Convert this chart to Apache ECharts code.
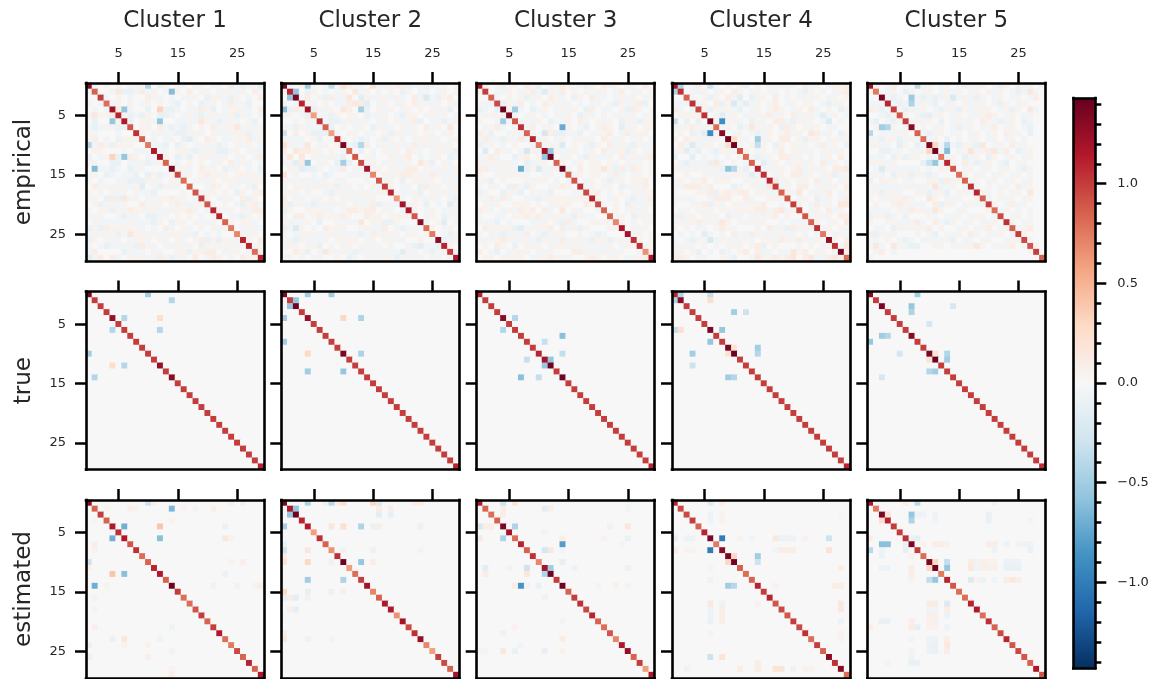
<!DOCTYPE html>
<html><head><meta charset="utf-8">
<style>html,body{margin:0;padding:0;background:#fff}#c{width:1156px;height:679px}#c canvas{filter:blur(0.4px)}</style>
<script src="https://cdn.jsdelivr.net/npm/echarts@6/dist/echarts.min.js"></script>
</head><body><div id="c"></div>
<script>
const clusters = ['Cluster 1','Cluster 2','Cluster 3','Cluster 4','Cluster 5'];
const rowNames = ['empirical','true','estimated'];
const colorStops = ['#053061','#2166ac','#4393c3','#92c5de','#d1e5f0','#f7f7f7','#fddbc7','#f4a582','#d6604d','#b2182b','#67001f'];
const colorMin = -1.43, colorMax = 1.43;
const barMajor = [-1,-0.5,0,0.5,1];
const barMinor = [-1.4,-1.3,-1.2,-1.1,-0.9,-0.8,-0.7,-0.6,-0.4,-0.3,-0.2,-0.1,0.1,0.2,0.3,0.4,0.6,0.7,0.8,0.9,1.1,1.2,1.3,1.4];

// diagonals
const diagE1=[1.3,.85,1,.8,1.2,1.1,1.15,.9,1.05,.85,.75,1.15,1.2,.85,1.35,.95,.8,.85,.9,1,.9,1.1,1.1,.85,.75,.7,1.1,1.1,.8,1.1];
const diagE2=[1.35,1.1,1.35,1.1,1.2,.6,1.05,.85,.6,1.05,1.35,.8,.9,.95,1.2,.7,.9,1,1.1,.6,1.2,1.15,.9,1.3,.8,.75,1.3,1.1,1,1.15];
const diagE3=[1.15,1,.85,.95,1.4,1.35,.9,1.05,.85,1.1,.75,1.2,1.4,.85,1.4,.85,.9,1.05,.95,1.1,.95,.85,.85,.7,1.15,1.2,1.05,1.05,.65,1.15];
const diagE4=[1.15,1.05,.85,1.05,.95,1.05,1.35,.8,1.3,1.4,1.4,.9,.8,.85,1.1,1.05,1.1,1,.85,.9,1,.95,.9,.85,1.05,.75,1.25,1.05,1.35,.8];
const diagE5=[1.2,.75,1.35,1.1,1,.9,1,1.3,.85,.8,1.35,1.4,.75,1.1,.9,.8,.85,1.05,1.1,.85,1,.8,.95,1.05,.85,1,.95,.9,1,.85];
const diagT1=[1.35,1,1,1,1.25,1,1,1,1,1,1,1,1.25,1,1.3,1,1,1,1,1,1,1,1,1,1,1,1,1,1,1.1];
const diagT2=[1.35,1,1.4,1,1.25,1,1,1,1,1,1.35,1,1,1,1,1,1,1,1,1,1,1,1,1,1,1,1,1,1,1.1];
const diagT3=[1.1,1,1,1,1.3,1,1,1,1,1,1.1,1.2,1.4,1,1.4,1,1,1,1,1,1,1,1,1,1,1,1,1,1,1.1];
const diagT4=[1.1,1.3,1,1,1,1,1.35,1,1,1.35,1.4,1,1,1,1,1,1,1,1,1,1,1,1,1,1,1,1,1,1,1.1];
const diagT5=[1.3,1,1.35,1,1,1,1,1.3,1,1,1.35,1.4,1,1,1,1,1,1,1,1,1,1,1,1,1,1,1,1,1,1.05];
const diagS1=[1.3,.85,1,.85,1.15,1.05,1.15,.9,1.05,.8,.85,1.1,1.15,.85,1.4,1,.8,.8,.9,1,.85,1,1.15,.8,.75,.95,.85,1.1,.85,1.15];
const diagS2=[1.35,1.15,1.4,1.1,1.15,.6,1.05,.85,.65,1.05,1.4,.6,.8,1,1.2,.7,.85,1.15,1.15,.65,1.2,.95,1.05,1.25,.7,.6,1,.95,.85,1.2];
const diagS3=[1.15,.85,.8,.85,1.35,1.2,.8,1.1,.85,1.05,.7,1.2,1.4,1,1.4,.85,1,1.05,.95,1.1,.85,.8,.9,.7,1.15,1.25,.85,1,.6,1.15];
const diagS4=[1.1,.95,.95,1,.85,1.1,1.35,.75,1.3,1.35,1.4,.85,.8,.85,1.1,1,1.1,.9,.95,.9,1,.95,1.05,.8,1,.85,1.3,1.05,1.3,.8];
const diagS5=[1.15,.75,1.35,1.1,1,1,1.05,1.35,1,.8,1.35,1.4,.75,1.1,.9,.8,.8,1.1,1.15,.8,1.05,.85,.95,1.1,.9,.95,.9,.85,1.15,.9];

// notable off-diagonal cells: [row, col, value]
const offE1=[[0,10,-.42],[1,14,-.62],[4,6,-.55],[4,12,.33],[6,12,-.55]];
const offE2=[[0,4,-.5],[0,8,-.35],[1,2,-.55],[0,10,.2],[0,15,.2],[4,13,-.48],[4,10,.15],[10,13,-.42],[2,13,-.15],[3,13,.12],[8,0,-.3],[4,0,-.6],[13,4,-.55],[13,10,-.48],[2,24,-.2]];
const offE3=[[0,10,-.1],[4,6,-.5],[7,14,-.72],[8,11,-.25],[11,12,-.55],[10,14,-.2],[8,14,-.1],[8,12,.1],[1,11,-.18]];
const offE4=[[0,1,-.45],[0,6,-.3],[6,8,-.9],[6,0,-.35],[9,10,.25],[9,14,-.5],[10,14,-.35],[3,10,-.22],[3,12,-.14],[10,3,-.2],[14,9,-.58],[14,10,-.42],[6,26,-.2],[26,6,-.22]];
const offE5=[[0,8,-.38],[2,7,-.52],[3,7,-.45],[2,14,-.22],[7,2,-.5],[7,3,-.42],[8,0,-.4],[10,13,-.4],[11,13,-.62],[10,11,.3],[13,10,-.32],[13,11,-.55],[14,2,-.2],[10,5,-.12],[11,17,.18],[11,21,.15]];
const offT1=[[0,10,-.5],[1,14,-.42],[4,6,-.42],[4,12,.25],[6,12,-.42]];
const offT2=[[0,4,-.5],[0,8,-.5],[1,2,-.55],[4,10,.3],[4,13,-.45],[10,13,-.45],[13,4,-.5],[13,10,-.55]];
const offT3=[[4,6,-.42],[7,14,-.6],[8,11,-.33],[10,14,-.35],[11,12,-.55]];
const offT4=[[0,1,-.45],[0,6,-.35],[1,6,.25],[3,10,-.5],[3,12,-.3],[6,8,-.55],[9,10,.2],[9,14,-.5],[10,14,-.42],[14,9,-.5],[14,10,-.42]];
const offT5=[[0,8,-.5],[2,7,-.55],[3,7,-.45],[2,14,-.25],[5,10,-.25],[8,0,-.55],[10,11,.2],[10,13,-.42],[11,13,-.5],[7,2,-.5],[7,3,-.42],[14,2,-.25]];
const offS1=[[0,10,-.3],[0,11,.08],[0,24,-.08],[0,26,-.08],[1,14,-.65],[1,16,.06],[1,18,-.05],[1,21,.08],[1,8,.06],[1,3,.04],[3,14,.05],[4,6,-.7],[4,12,.4],[4,23,-.1],[6,12,-.6],[6,23,.15],[6,24,.05],[12,23,-.08],[14,1,-.7],[14,21,-.08],[14,25,-.06],[14,29,.08],[23,4,-.1],[23,6,.15],[23,12,-.08],[10,0,-.3],[26,10,.08],[24,10,.06],[24,0,-.1],[26,0,-.1],[28,14,.06],[7,1,.08]];
const offS2=[[0,4,-.45],[0,8,-.4],[0,10,.25],[0,15,.3],[0,16,-.2],[1,2,-.55],[1,16,.12],[2,16,-.15],[4,0,-.5],[4,8,.15],[4,10,.25],[4,13,-.45],[4,15,-.1],[4,16,.1],[7,0,-.1],[8,0,-.3],[8,4,.15],[8,10,-.08],[8,15,-.08],[9,0,.1],[10,0,.2],[10,4,.3],[10,13,-.55],[10,15,.1],[13,4,-.5],[13,10,-.45],[15,0,.3],[15,4,-.12],[15,8,-.1],[15,10,.08],[16,0,-.12],[16,2,-.15],[16,4,.08],[18,1,.08],[18,2,-.12],[23,0,.15],[23,4,-.08],[23,8,-.05],[0,22,.1],[0,23,.1]];
const offS3=[[0,4,-.3],[0,6,.2],[4,0,-.25],[4,1,.1],[4,2,.1],[4,6,-.45],[6,4,-.45],[6,0,.15],[7,14,-.8],[14,7,-.85],[8,11,-.25],[8,12,.15],[11,8,-.3],[11,12,-.5],[12,11,-.45],[10,14,-.12],[14,10,-.1],[11,1,-.15],[12,1,.1],[4,22,-.08],[4,25,.15],[6,25,-.1],[25,1,-.05],[25,11,-.12],[0,25,-.05],[11,16,-.08],[11,25,-.08],[6,14,.1],[14,6,.1],[8,14,-.05],[23,14,.12],[14,23,.08],[11,5,-.05],[14,20,.05],[14,25,.05],[6,21,.06],[24,7,-.05]];
const offS4=[[0,6,-.2],[0,8,.1],[6,0,-.12],[6,2,-.08],[6,3,-.08],[6,8,-1],[8,6,-1],[6,11,.05],[6,13,-.06],[6,17,.15],[6,18,-.08],[6,19,-.08],[6,20,-.08],[6,22,.06],[6,26,-.3],[26,6,-.3],[8,0,.12],[8,2,.05],[8,3,.05],[8,17,-.05],[8,18,.1],[8,19,.1],[8,20,.1],[8,26,.2],[26,8,.2],[9,10,.3],[10,9,.3],[9,14,-.5],[14,9,-.5],[10,14,-.3],[14,10,-.4],[14,17,.06],[14,27,.1],[14,28,.1],[17,28,.15],[18,28,.15],[17,6,.15],[18,6,-.08],[20,6,-.1],[22,6,.05],[17,8,-.08],[18,8,.1],[19,8,.1],[20,8,.1],[28,2,-.06],[28,11,.1],[28,17,.18],[28,18,.18],[28,20,-.08],[28,22,.06],[28,23,.04],[2,28,-.03]];
const offS5=[[0,6,.1],[0,8,-.38],[0,21,.08],[2,3,.2],[3,2,.25],[2,7,-.55],[2,8,-.08],[2,9,-.08],[2,11,-.08],[2,20,-.1],[3,7,-.45],[3,11,-.05],[3,20,-.1],[7,2,-.6],[7,3,-.6],[7,6,-.1],[6,7,-.1],[7,9,.05],[7,11,.1],[7,12,.1],[7,13,.05],[7,20,.1],[7,21,.1],[7,23,-.08],[7,25,.05],[7,26,-.08],[7,27,-.08],[8,0,-.4],[8,6,-.12],[8,21,-.08],[10,11,.3],[11,10,.3],[10,13,-.35],[10,17,.12],[10,18,-.06],[10,20,.06],[10,21,.06],[10,23,-.08],[10,24,-.08],[10,25,-.08],[11,2,-.08],[11,3,-.08],[11,7,.1],[11,13,-.55],[11,17,.15],[11,18,-.06],[11,19,.08],[11,20,.08],[11,21,.08],[11,23,-.1],[11,24,-.1],[11,25,-.1],[13,10,-.35],[13,11,-.55],[13,17,-.2],[13,18,.06],[13,19,-.08],[13,21,-.06],[13,23,.1],[13,24,.15],[13,25,.1],[17,10,.12],[17,11,.12],[17,13,-.2],[18,10,-.05],[18,11,-.05],[18,13,.1],[19,10,.08],[19,11,.08],[19,13,-.08],[21,0,.1],[21,7,.12],[21,8,-.12],[21,10,.06],[21,11,.06],[21,13,-.06],[23,7,-.05],[23,10,-.08],[23,11,-.08],[23,13,.1],[24,13,.15],[24,10,-.08],[25,13,.1],[27,3,.05],[27,7,-.1],[27,8,-.1]];

// faint cells of the empirical panels, upper triangle, one string per row.
// a b c d = +.05 +.1 +.15 +.2 ; x y z w = -.05 -.1 -.15 -.2 ; . = 0
const noiseE1=[
"x.a.a.xaxb.ya.xx.aa.xa.yxyxxz",
"..xcyyxbxa.xya.b.xa.xaaxa.bxx",
"x.a.x..bax.x.xxa.yaaxya.x.bx",
"xa.a.xa.a.xy.a.yxa.xbxay..a",
"bxx..y.ayyx.xxbay.xaaxx.ba",
"ayxya.yyx.xaxyxaxxayax.x",
"y.aaxy..xxaxcaxyxax.xy",
".aa.bxyxyx.a.bxaacxaxa.",
"a.xaxxyyaax.axxaaayxa",
".x.xa.yzx.ba.xxaabxa",
"xxy.ya.xaxxyx.axa.xb",
"xx.aaxyxaayyxa.xax",
"a.yxy.aaxxa.xa.xb",
".x.a.a.xa.bxax.xc",
"aax.bxa.yxa.x.y",
"xa.abaaa.aaaax",
".xaxa.aaaxxaa",
"..xba.xx.ay.",
"xaa.a.ya.ab",
"a.xxa.bya.",
"x.a.xyabx",
"axa.axbb",
".xxya.a",
"a.aax.",
".xaax",
"axa.",
"a.b",
"xa",
"a"];
const noiseE2=[
"x.a.a.xxa.bxa.aaxabbyxayaxa.a",
"..ya.x.xa.cxa.x.a.ya.xx.xa.a",
"xb.aybxxc.yaxaaxax.bxaxyab.",
"ax.a.xxbcbz.xa.xa.bxaxa.ax",
"yaxa.bb.xy.axa.xa.a.axay.",
"xxya.aa.yxxa.xyaa.xaxa.xa",
"xyyxaxxa.xa.axaby.xxyxa",
"y.a.xa.yaxx.axa.bxa.c.",
"x.aa.xx.ayaxxa.aa.xa.",
"a.xyx.aya.a.xaaxa.xa",
"xyxb.xaxaxxbxaxaxa.",
".y.x.axa.bax.xaaxy",
".ax..axab.x.xa.yx",
"xa.xaxxa.cay.ax.",
"xa.aaxbb.axxaxa",
".axabbaaxbaxxa",
"xa.y.aaxa.xax",
"a.xa.ybxa.xa",
".xxay.axaxa",
"x.aaxax.xy",
"xa.y.x.za",
"a.xa.xax",
".xa.yxa",
"x.az.x",
"a.xa.",
".xyx",
"yxa",
"a.",
"x"];
const noiseE3=[
"a.ayxa.bxa.xabaxxya.bxa.xa.b",
".xxa.xabxaaxb.a.axaa.xb.xa.a",
"x.a.ayxa.bax.ya.bxx.xaxa.xa",
"yaxb.x.bxaxa.x.xa.xyaxaby.",
"a.x.yxa.xaxa.yb.xx.ayba.a",
"x.xa.x.axa.yax.a.xaxa.xa",
"xaxa.yxxa.bx.axa.yaxyaa",
"xb.xa.xa.xy.aba.zxa.aa",
"x.a.y.xay.xaab.xbxaa.",
"xa.xa.xaax.baxa.xa.x",
"xax..a.xya.bxaxyaxa",
".axxa.xa.bxaaya.xa",
".xa.xyaxxa.bxaxab",
"a.xa.aa.ax.axa.a",
"x.b.aacaybxba.a",
"xa.aa.xbx.xa.x",
".xa.ayxa.aab.",
"xa.xa.yxaxb.",
"ab.x.a.xaxa",
"a.xa.xyxab",
"x.a.yaxxa",
".a.xaxa.",
"xa.yaxa",
"a.x.xa",
".axa.",
"xa.x",
"a.a",
"xa",
"b"];
const noiseE4=[
"a.xb.xa.a.xy.a.xaxxa.bxa.xaab",
".xxa.xa.ba.xa.ax.a.xya.x.xab",
"x.aya.bxz.yxa.b.x.xaxa.xa.a",
"xa.bya.xaxa.xb.xa.aa.xyxa.",
"ayaxaxy.xa.aba.xa.bx.a.ya",
".xzxa.xaxabxa.bxaaxzxa.x",
"a.xax.yax.bbxyaxa.xa.x",
"xa.yxcaxa.yba.axa.xx.",
".xa.xyxa.abxa.cbxa.ya",
"aax.yxa.bb.ayaa.xaxa",
"x.axa.ya.axa.xbxa.y",
"a.xa.xb.aaxa.xaxa",
"xyxa.bbxa.x.xa.b",
".zxa.xaaxa.bxa.x",
"xaxa.abxaxa.bbc",
".xa.bbxa.xayxa",
"cxa.xa.bxa.xa",
"xa.bb.xaxa.b",
"axc.xaxb.xa",
".xa.yxa.xb",
"a.xbxa.cc",
".xa.bxa.",
"xaxa.bb",
"a.xa.c",
"xa.ax",
".xax",
"a.b",
"xc",
"a"];
const noiseE5=[
"a.xb.x.xax.xa.xyaxa.xya.bxa.a",
".xa.ya.xa.xaxa.xa.axa.xyxcx.",
"xyx.zxyxyxa.xaxya.xa.xa.xb.",
"xyxyxaxy.xa.axax.xya.xa.",
"ayaxa.xyaxyaxaaa.xaya.cx",
"a.xy.xa.xa.xxaba.xa.xa",
"xaxa.y.xaxa.baxyxa.yx",
".a.xa.xyxa.xab.xa.xy",
"xyxa.xa.xa.xa.bxa.y",
"xa.y.x.xa.xa.xa.x",
"bxyxyaxyc.xa.bxa.",
"xa.xa.xabaxb.yxa",
"xa.yxa.ya.xa.xa",
"a.bxyxa.xy.xa.",
".xa.xa.xa.xya",
"a.xa.xa.xa.x",
"xa.xa.xa.xa",
"x.a.xa.bxa",
"ax.a.xa.c",
"x.axa.xa",
"a.xbxa.",
"xa.x.a",
".xa.x",
"a.xa",
"xab",
"a.",
"x",
"a",
""];

const levels={a:.05,b:.1,c:.15,d:.2,x:-.05,y:-.1,z:-.15,w:-.2};
const cats=Array.from({length:30},(_,i)=>String(i));
function cells(diag,off,noise){
  const m=cats.map(()=>cats.map(()=>0));
  (noise||[]).forEach((s,r)=>{[...s].forEach((ch,k)=>{const c=r+1+k;if(c<30&&levels[ch]){m[r][c]=levels[ch];m[c][r]=levels[ch];}});});
  const seen={};
  off.forEach(o=>{seen[o[0]+'_'+o[1]]=1;});
  off.forEach(o=>{m[o[0]][o[1]]=o[2];if(!seen[o[1]+'_'+o[0]])m[o[1]][o[0]]=o[2];});
  diag.forEach((v,i)=>{m[i][i]=v;});
  const out=[];
  m.forEach((row,r)=>row.forEach((v,c)=>out.push([c,r,v])));
  return out;
}
const panels=[
 [[diagE1,offE1,noiseE1],[diagE2,offE2,noiseE2],[diagE3,offE3,noiseE3],[diagE4,offE4,noiseE4],[diagE5,offE5,noiseE5]],
 [[diagT1,offT1],[diagT2,offT2],[diagT3,offT3],[diagT4,offT4],[diagT5,offT5]],
 [[diagS1,offS1],[diagS2,offS2],[diagS3,offS3],[diagS4,offS4],[diagS5,offS5]]
];
const lefts=[86,281.3,476.7,672,867.3], tops=[83,291.6,500], side=178;
const ink='#000', txt='#262626', font='"DejaVu Sans"';
const shown=i=>i%10===5;
const grid=[],xAxis=[],yAxis=[],series=[];
function frameX(g,pos){return {gridIndex:g,type:'category',data:cats,position:pos,z:5,silent:true,
  axisLine:{show:true,onZero:false,lineStyle:{color:ink,width:2.6,cap:'square'}},axisTick:{show:false},axisLabel:{show:false},splitLine:{show:false},splitArea:{show:false}};}
panels.forEach((row,r)=>row.forEach((p,c)=>{
  const g=grid.length;
  grid.push({left:lefts[c],top:tops[r],width:side,height:side,containLabel:false});
  const tick={show:true,alignWithLabel:true,length:11,interval:(i)=>shown(i),lineStyle:{color:ink,width:2.5}};
  const xi=xAxis.length, yi=yAxis.length;
  xAxis.push(Object.assign(frameX(g,'top'),{
    axisTick:tick,
    axisLabel:{show:r===0,interval:(i)=>shown(i),margin:23,fontSize:13,color:txt,fontFamily:font},
    name:r===0?clusters[c]:'',nameLocation:'middle',nameGap:50,nameTextStyle:{fontSize:23,color:txt,fontFamily:font}
  }));
  xAxis.push(frameX(g,'bottom'));
  yAxis.push(Object.assign(frameX(g,'left'),{
    inverse:true,axisTick:tick,
    axisLabel:{show:c===0,interval:(i)=>shown(i),margin:20,fontSize:13,color:txt,fontFamily:font},
    name:c===0?rowNames[r]:'',nameLocation:'middle',nameGap:50,nameRotate:90,nameTextStyle:{fontSize:23,color:txt,fontFamily:font}
  }));
  yAxis.push(Object.assign(frameX(g,'right'),{inverse:true}));
  series.push({type:'heatmap',xAxisIndex:xi,yAxisIndex:yi,data:cells(p[0],p[1],p[2]),progressive:0,animation:false,silent:true,
    itemStyle:{borderWidth:0},emphasis:{disabled:true}});
}));
// colour bar axes: one grid for the frame and the labelled ticks, one on top for the minor ticks
const barBox={left:1073.3,top:98,width:22,height:570};
const barAxis=(g,pos,vals,len,labels,line)=>({gridIndex:g,type:'value',min:colorMin,max:colorMax,position:pos,z:5,silent:true,
  axisLine:{show:line,onZero:false,lineStyle:{color:ink,width:2.6,cap:'square'}},
  axisTick:{show:len>0,customValues:vals,length:len,lineStyle:{color:ink,width:2.5}},
  axisLabel:{show:labels,customValues:vals,margin:22,align:'left',fontSize:13,color:txt,fontFamily:font,
    formatter:v=>(v<0?'\u2212':'')+Math.abs(v).toFixed(1)},
  splitLine:{show:false}});
const gb=grid.length;
grid.push(Object.assign({},barBox),Object.assign({},barBox));
xAxis.push(frameX(gb,'top'),frameX(gb,'bottom'));
xAxis.push(Object.assign(frameX(gb+1,'bottom'),{show:false}));
yAxis.push(barAxis(gb,'left',[],0,false,true));
yAxis.push(barAxis(gb,'right',barMajor,11,true,true));
yAxis.push(barAxis(gb+1,'right',barMinor,6,false,false));
const option={animation:false,backgroundColor:'#fff',grid,xAxis,yAxis,series,
  visualMap:{type:'continuous',min:colorMin,max:colorMax,calculable:false,show:true,left:barBox.left,top:barBox.top,padding:0,
    itemWidth:barBox.width,itemHeight:barBox.height,text:['',''],showLabel:false,hoverLink:false,inRange:{color:colorStops},seriesIndex:series.map((_,i)=>i),z:3}};
const chart=echarts.init(document.getElementById('c'),null,{renderer:'canvas',width:1156,height:679});
chart.setOption(option);
</script></body></html>
